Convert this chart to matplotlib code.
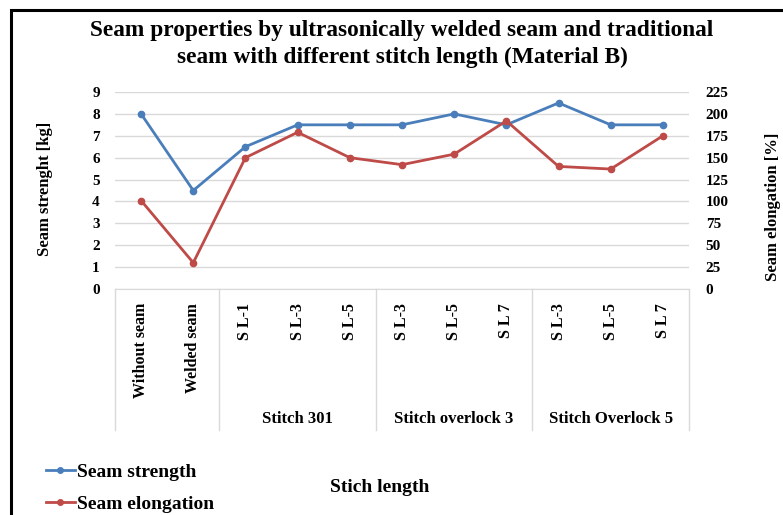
import matplotlib
matplotlib.use("Agg")
import matplotlib.pyplot as plt
from matplotlib.lines import Line2D
from matplotlib.patches import Rectangle
import matplotlib.transforms as mtransforms

plt.rcParams['font.family'] = ['Liberation Serif', 'DejaVu Serif']
plt.rcParams['font.weight'] = 'bold'

categories = ["Without seam", "Welded seam", "S L-1", "S L-3", "S L-5",
              "S L-3", "S L-5", "S L 7", "S L-3", "S L-5", "S L 7"]
groups = ["Stitch 301", "Stitch overlock 3", "Stitch Overlock 5"]
group_spans = [(2, 4), (5, 7), (8, 10)]
seam_strength = [8, 4.5, 6.5, 7.5, 7.5, 7.5, 8, 7.5, 8.5, 7.5, 7.5]
seam_elongation = [101, 30, 150, 179, 150, 142, 154, 192, 140, 137, 175]
left_ticks = list(range(0, 10))
right_ticks = list(range(0, 226, 25))

W, H = 783, 515
fig = plt.figure(figsize=(W / 100, H / 100), dpi=100)

def fx(px):
    return px / W

def fy(py):
    return 1 - py / H

# outer black frame (partially outside image)
fig.patches.append(Rectangle((fx(11), fy(600)), 2, fy(10) - fy(600),
                             transform=fig.transFigure, fill=False,
                             edgecolor='black', linewidth=2.2, zorder=0))

ax = fig.add_axes([fx(115), fy(289), fx(689) - fx(115), fy(92) - fy(289)])
ax2 = ax.twinx()

blue = '#4A7EBB'
red = '#BE4B48'
x = list(range(len(categories)))

ax.plot(x, seam_strength, color=blue, lw=2.0, marker='o', ms=4.5, zorder=3)
ax2.plot(x, seam_elongation, color=red, lw=2.0, marker='o', ms=4.5, zorder=3)

ax.set_xlim(-0.5, len(categories) - 0.5)
ax.set_ylim(0, 9)
ax2.set_ylim(0, 225)
ax.set_yticks(left_ticks)
ax2.set_yticks(right_ticks)
ax.grid(axis='y', color='#D9D9D9', lw=1.0)
ax.set_axisbelow(True)

for a in (ax, ax2):
    for s in a.spines.values():
        s.set_visible(False)
    a.tick_params(length=0, labelsize=11)
ax.spines['bottom'].set_visible(True)
ax.spines['bottom'].set_color('#D9D9D9')
ax.tick_params(axis='y', pad=11)
ax2.tick_params(axis='y', pad=12)
for lbl in ax.get_yticklabels() + ax2.get_yticklabels():
    lbl.set_fontweight('bold')

ax.set_xticks(x)
ax.set_xticklabels(categories, rotation=90, fontsize=11.5, fontweight='bold', va='top')
ax.tick_params(axis='x', pad=10)

# category separators
trans = mtransforms.blended_transform_factory(ax.transData, ax.transAxes)
ybot = -(430 - 289) / (289 - 92)
for xs in [-0.5, 1.5, 4.5, 7.5, 10.5]:
    ax.plot([xs, xs], [0, ybot], transform=trans, color='#D9D9D9', lw=1.0, clip_on=False)

ygrp = -(419 - 289) / (289 - 92)
for g, (a0, a1) in zip(groups, group_spans):
    ax.text((a0 + a1) / 2, ygrp, g, transform=trans, ha='center', va='center',
            fontsize=12, fontweight='bold')

fig.text(fx(402), fy(44), "Seam properties by ultrasonically welded seam and traditional\n"
         "seam with different stitch length (Material B)", ha='center', va='center',
         fontsize=16.8, fontweight='bold', linespacing=1.38)

fig.text(fx(45), fy(189), "Seam strenght [kg]", rotation=90, ha='center', va='center',
         fontsize=12, fontweight='bold')
fig.text(fx(773), fy(207), "Seam elongation [%]", rotation=90, ha='center', va='center',
         fontsize=12, fontweight='bold')
fig.text(fx(380), fy(488), "Stich length", ha='center', va='center',
         fontsize=14, fontweight='bold')

handles = [Line2D([], [], color=blue, lw=2.0, marker='o', ms=4),
           Line2D([], [], color=red, lw=2.0, marker='o', ms=4)]
fig.legend(handles, ["Seam strength", "Seam elongation"], loc='center left',
           bbox_to_anchor=(fx(36), fy(488)), frameon=False, fontsize=14,
           handlelength=1.5, handletextpad=0.1, labelspacing=0.75, borderpad=0)

fig.savefig("out.png", dpi=100)
